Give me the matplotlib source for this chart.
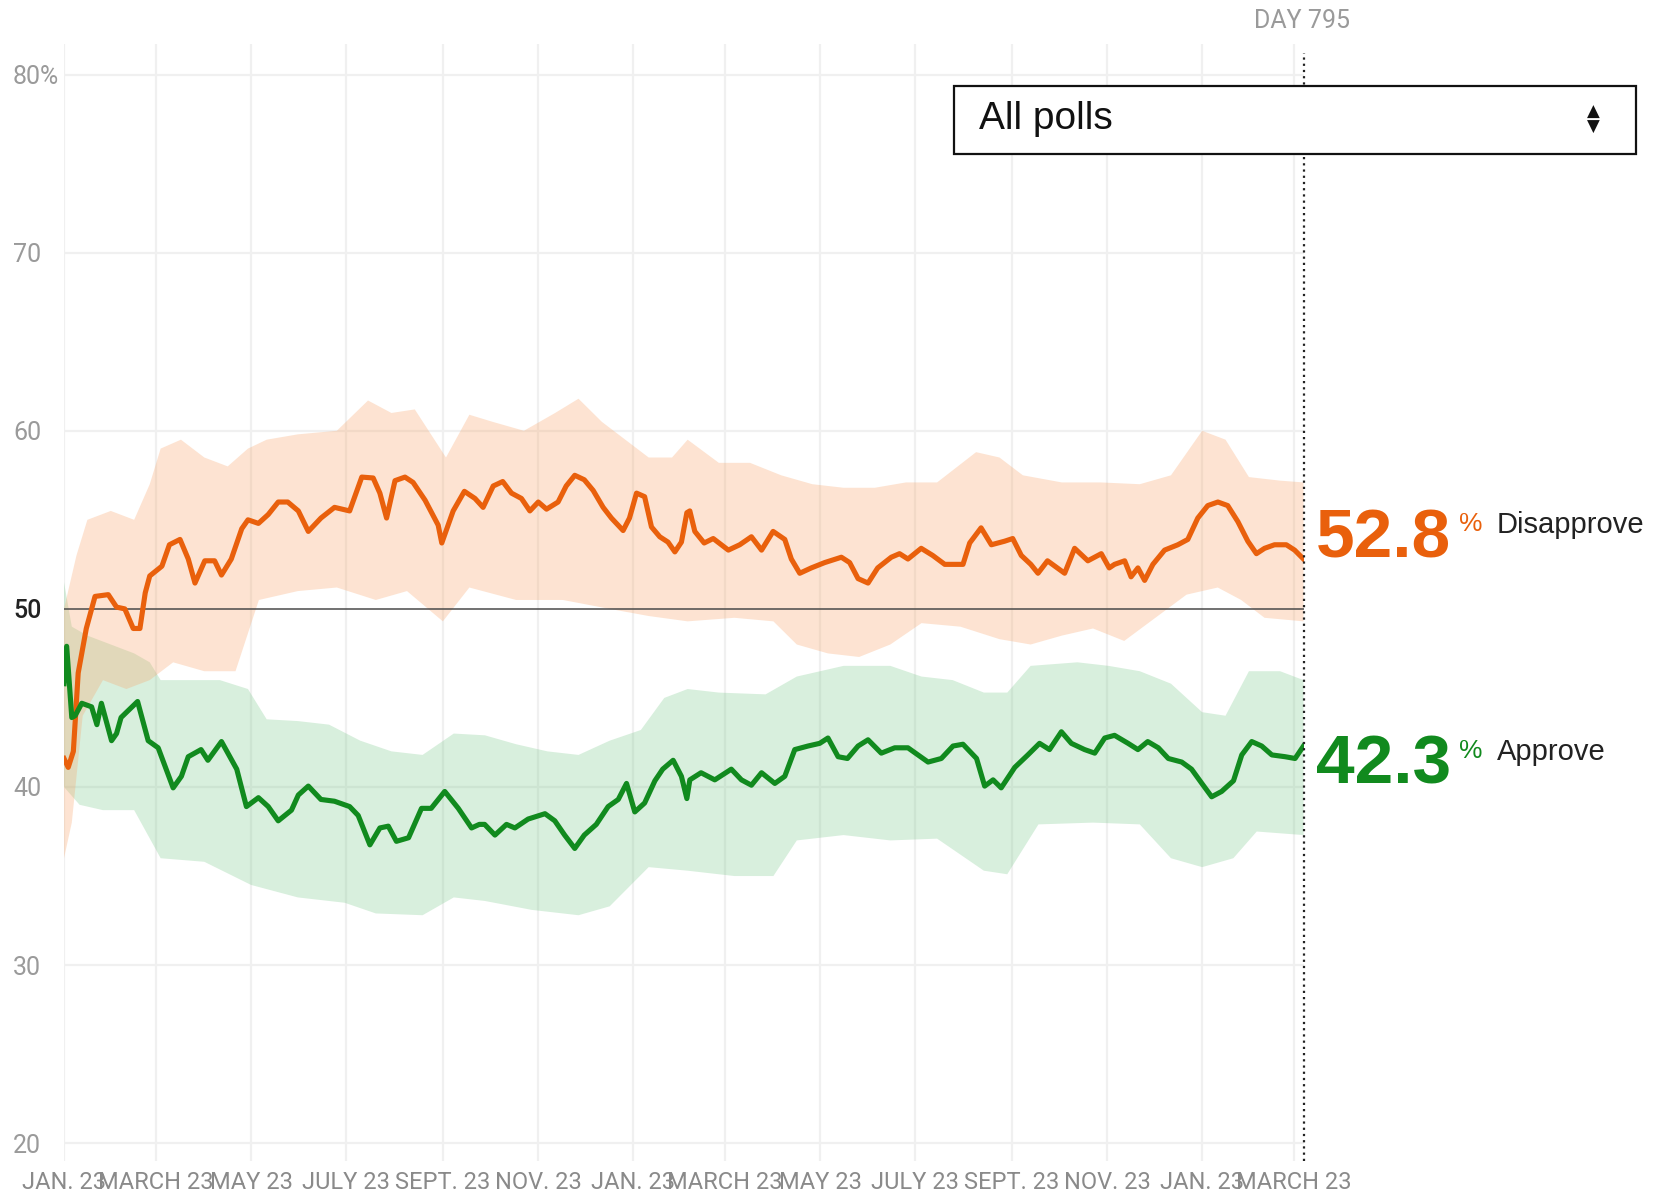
import matplotlib.pyplot as plt
from matplotlib.patches import Rectangle
import numpy as np

# Trump approval tracker, day 0 = Jan. 23, 2017
tick_days = [0, 59, 120, 181, 243, 304, 365, 424, 485, 546, 608, 669, 730, 789]
tick_labels = ["JAN. 23", "MARCH 23", "MAY 23", "JULY 23", "SEPT. 23", "NOV. 23",
               "JAN. 23", "MARCH 23", "MAY 23", "JULY 23", "SEPT. 23", "NOV. 23",
               "JAN. 23", "MARCH 23"]
y_ticks = [20, 30, 40, 50, 60, 70, 80]
y_labels = ["20", "30", "40", "50", "60", "70", "80%"]

dis_days = [0, 2.7, 6, 9.1, 14.3, 19.9, 28.4, 33.7, 39, 44.4, 48.7, 52.1, 55, 62.8, 67.6,
            74.4, 79.7, 84, 90.3, 96.6, 101, 107.3, 114, 118, 124.7, 131, 137.4, 143.5,
            150.3, 156.7, 164.8, 173.5, 183.2, 191, 198.3, 202.6, 206.9, 212.3, 218.7,
            223.9, 231.6, 240, 242.3, 249.6, 256.8, 263.6, 268.8, 275.3, 281.4, 287,
            293.4, 298.8, 304.2, 309.5, 316.9, 322.1, 327.6, 333.7, 339.4, 345.8, 351.1,
            358.6, 362.7, 367.2, 372.4, 376.8, 382.1, 387.4, 391.8, 396, 399.5, 401.4,
            404.6, 410.6, 416.4, 426.1, 433.4, 440.9, 447.4, 454.8, 462.3, 466.5, 471.9,
            479.3, 487.9, 498.6, 503.9, 509.3, 515.7, 521.9, 530.6, 535.9, 541.3, 549.8,
            557.2, 564.9, 576.6, 580.9, 588.2, 594.8, 603.3, 608.5, 614, 620.1, 624.7,
            630.8, 641.8, 648.2, 656.7, 665.3, 670.4, 673.8, 680.3, 684.4, 688.8, 693.1,
            698.4, 705.9, 714.4, 720.8, 727.2, 733.6, 740.1, 746.4, 752.9, 759.3, 764.8,
            770, 776.4, 784, 789.3, 795]
dis_vals = [41.6, 41.1, 42.0, 46.4, 48.9, 50.7, 50.8, 50.1, 50.0, 48.9, 48.9, 50.9, 51.85,
            52.4, 53.6, 53.9, 52.8, 51.45, 52.7, 52.7, 51.9, 52.8, 54.5, 55.0, 54.8, 55.3,
            56.0, 56.0, 55.5, 54.35, 55.1, 55.7, 55.5, 57.4, 57.35, 56.5, 55.1, 57.2, 57.4,
            57.1, 56.1, 54.7, 53.7, 55.5, 56.6, 56.2, 55.7, 56.9, 57.15, 56.5, 56.2, 55.5,
            56.0, 55.6, 56.0, 56.9, 57.5, 57.25, 56.65, 55.7, 55.1, 54.4, 55.1, 56.5, 56.3,
            54.6, 54.05, 53.75, 53.2, 53.75, 55.4, 55.5, 54.35, 53.7, 53.95, 53.3, 53.6,
            54.05, 53.3, 54.35, 53.9, 52.8, 52.0, 52.3, 52.6, 52.9, 52.6, 51.7, 51.45, 52.3,
            52.9, 53.1, 52.8, 53.4, 53.0, 52.5, 52.5, 53.7, 54.55, 53.6, 53.8, 53.95, 53.0,
            52.5, 52.0, 52.7, 52.0, 53.4, 52.7, 53.1, 52.3, 52.5, 52.7, 51.8, 52.3, 51.6,
            52.5, 53.3, 53.6, 53.9, 55.1, 55.8, 56.0, 55.8, 54.9, 53.8, 53.1, 53.4, 53.6,
            53.6, 53.3, 52.8]

app_days = [0, 1.7, 5, 7.1, 11.4, 17.7, 21.1, 24, 30.5, 33.7, 36.6, 47.2, 54, 60.4, 70,
            75.3, 79.7, 87.9, 92.3, 101, 110.8, 117, 124.7, 131, 137.4, 145.9, 150.3,
            156.7, 164.8, 173.5, 183.2, 188.7, 196.2, 202.6, 208, 213.2, 221, 229.3,
            235.5, 244.2, 252.9, 261.4, 266.4, 269.8, 276.4, 283.8, 289.2, 297.7, 308.5,
            314.8, 321.1, 327.6, 333.7, 341.4, 349, 355.5, 360.8, 366.1, 372.4, 379, 384,
            390.7, 396, 399.5, 401.4, 408.6, 417.4, 428, 434.5, 440.9, 447.4, 455.9, 462.3,
            468.7, 477.2, 484.7, 490, 496.5, 502.5, 509.3, 515.7, 524.2, 532.8, 541.3,
            554.2, 562.7, 570.2, 576.6, 585.3, 590.5, 595.9, 601.1, 609.8, 618.2, 625.7,
            632.1, 639.7, 646.1, 654.6, 661.1, 667.5, 673.8, 682.5, 688.8, 695.1, 701.9,
            708.3, 716.9, 723.2, 729.8, 736.1, 742.5, 750.1, 755.4, 761.8, 768.2, 774.7,
            783.2, 789.6, 795]
app_vals = [45.8, 47.9, 43.9, 44.0, 44.7, 44.5, 43.5, 44.7, 42.6, 43.0, 43.9, 44.8, 42.6,
            42.2, 39.95, 40.6, 41.7, 42.1, 41.5, 42.55, 41.0, 38.9, 39.4, 38.9, 38.1, 38.7,
            39.55, 40.05, 39.3, 39.2, 38.9, 38.4, 36.75, 37.7, 37.8, 36.95, 37.15, 38.8,
            38.8, 39.75, 38.8, 37.7, 37.9, 37.9, 37.3, 37.9, 37.7, 38.2, 38.5, 38.1, 37.3,
            36.55, 37.3, 37.9, 38.9, 39.3, 40.2, 38.6, 39.1, 40.35, 41.0, 41.5, 40.6, 39.35,
            40.4, 40.8, 40.4, 41.0, 40.4, 40.1, 40.8, 40.2, 40.6, 42.1, 42.3, 42.45, 42.75,
            41.7, 41.6, 42.3, 42.65, 41.9, 42.2, 42.2, 41.4, 41.6, 42.3, 42.4, 41.6, 40.05,
            40.4, 39.95, 41.1, 41.8, 42.45, 42.1, 43.1, 42.45, 42.1, 41.9, 42.75, 42.9,
            42.45, 42.1, 42.55, 42.2, 41.6, 41.4, 41.0, 40.2, 39.45, 39.75, 40.35, 41.8,
            42.55, 42.3, 41.8, 41.7, 41.6, 42.3]

# uncertainty bands
dis_hi_days = [0, 8, 15, 30, 45, 55, 62, 75, 90, 105, 118, 130, 150, 175, 195, 210, 225, 245,
               260, 275, 295, 315, 330, 345, 360, 375, 390, 400, 420, 440, 460, 480, 500, 520,
               540, 560, 585, 600, 615, 640, 665, 690, 710, 730, 745, 760, 780, 795]
dis_hi = [50, 53, 55, 55.5, 55, 57, 59, 59.5, 58.5, 58, 59, 59.5, 59.8, 60, 61.7, 61, 61.2,
          58.5, 60.9, 60.5, 60, 61, 61.8, 60.5, 59.5, 58.5, 58.5, 59.5, 58.2, 58.2, 57.5, 57,
          56.8, 56.8, 57.1, 57.1, 58.8, 58.5, 57.5, 57.1, 57.1, 57, 57.5, 60, 59.5, 57.4,
          57.2, 57.1]
dis_lo_days = [0, 5, 12, 25, 40, 55, 70, 90, 110, 125, 150, 175, 200, 220, 243, 260, 290,
               320, 350, 375, 400, 430, 455, 470, 490, 510, 530, 550, 575, 600, 620, 640,
               660, 680, 700, 720, 740, 755, 770, 795]
dis_lo = [36, 38, 44, 46, 45.5, 46, 47, 46.5, 46.5, 50.5, 51, 51.2, 50.5, 51, 49.3, 51.2,
          50.5, 50.5, 50, 49.6, 49.3, 49.5, 49.3, 48, 47.5, 47.3, 48, 49.2, 49, 48.3, 48,
          48.5, 48.9, 48.2, 49.5, 50.8, 51.2, 50.5, 49.5, 49.3]
app_hi_days = [0, 5, 15, 30, 45, 55, 62, 100, 118, 130, 150, 170, 190, 210, 230, 250, 270,
               290, 310, 330, 350, 370, 385, 400, 420, 450, 470, 500, 530, 550, 570, 590,
               605, 620, 650, 670, 690, 710, 730, 745, 760, 780, 795]
app_hi = [51.5, 49, 48.5, 48, 47.5, 47, 46, 46, 45.5, 43.8, 43.7, 43.5, 42.6, 42, 41.8, 43,
          42.9, 42.4, 42, 41.8, 42.6, 43.2, 45, 45.5, 45.3, 45.2, 46.2, 46.8, 46.8, 46.2, 46,
          45.3, 45.3, 46.8, 47, 46.8, 46.5, 45.8, 44.2, 44, 46.5, 46.5, 46]
app_lo_days = [0, 10, 25, 45, 62, 90, 120, 150, 180, 200, 230, 250, 270, 300, 330, 350, 375,
               400, 430, 455, 470, 500, 530, 560, 590, 605, 625, 660, 690, 710, 730, 750,
               765, 795]
app_lo = [40, 39, 38.7, 38.7, 36, 35.8, 34.5, 33.8, 33.5, 32.9, 32.8, 33.8, 33.6, 33.1, 32.8,
          33.3, 35.5, 35.3, 35, 35, 37, 37.3, 37, 37.1, 35.3, 35.1, 37.9, 38, 37.9, 36, 35.5,
          36, 37.5, 37.3]

ORANGE = '#E9600C'
GREEN = '#118A1E'

W, H = 1670, 1191
fig = plt.figure(figsize=(W / 100, H / 100), dpi=100)
top_px, bot_px = 44.3, 1161
ax = fig.add_axes([64 / W, (H - bot_px) / H, (1303.5 - 64) / W, (bot_px - top_px) / H])
ax.set_xlim(0, 795)
ax.set_ylim(19, 81.7)
for s in ax.spines.values():
    s.set_visible(False)

# grid
for v in y_ticks:
    if v != 50:
        ax.axhline(v, color='#f0f0f0', lw=1.6, zorder=0)
for d in tick_days:
    ax.axvline(d, color='#f0f0f0', lw=1.6, zorder=0)

# bands
ax.fill(np.concatenate([app_hi_days, app_lo_days[::-1]]),
        np.concatenate([app_hi, app_lo[::-1]]),
        color='#7FCB8F', alpha=0.3, lw=0, zorder=1)
ax.fill(np.concatenate([dis_hi_days, dis_lo_days[::-1]]),
        np.concatenate([dis_hi, dis_lo[::-1]]),
        color='#F9A46A', alpha=0.3, lw=0, zorder=1)

ax.axhline(50, color='#4a4a4a', lw=1.1, zorder=3)

ax.plot(dis_days, dis_vals, color=ORANGE, lw=3.7, zorder=4, solid_joinstyle='round')
ax.plot(app_days, app_vals, color=GREEN, lw=3.7, zorder=4, solid_joinstyle='round')

ax.axvline(795, ymin=0, ymax=0.992, color='#222222', ls=(0, (1, 1.8)), lw=1.6,
           clip_on=False, zorder=5)

ax.set_xticks(tick_days)
ax.set_xticklabels(tick_labels, fontsize=17, color='#8a8a8a', family='Roboto')
ax.set_yticks(y_ticks)
ax.set_yticklabels(y_labels, fontsize=18, color='#9a9a9a', family='Roboto')
ax.tick_params(axis='x', length=0, pad=7)
ax.tick_params(axis='y', length=0, pad=36.7)
for lbl in ax.get_yticklabels():
    lbl.set_horizontalalignment('left')
    if lbl.get_text() == '50':
        lbl.set_color('#222222')
        lbl.set_fontweight('medium')

# header and dropdown
fig.text(1301.5 / W, 1 - 21.3 / H, 'DAY 795', fontsize=18, color='#9a9a9a',
         family='Roboto', ha='center', va='center')
fig.add_artist(Rectangle((954 / W, 1 - 154 / H), 682 / W, 68 / H, transform=fig.transFigure,
                         facecolor='white', edgecolor='#111111', lw=1.6, zorder=5))
fig.text(979 / W, 1 - 119 / H, 'All polls', fontsize=28, color='#111111',
         family='Liberation Sans', ha='left', va='center', zorder=6)
fig.text(1593 / W, 1 - 112 / H, '▲', fontsize=12, color='#111111', family='DejaVu Sans',
         ha='center', va='center', zorder=6)
fig.text(1593 / W, 1 - 127 / H, '▼', fontsize=12, color='#111111', family='DejaVu Sans',
         ha='center', va='center', zorder=6)

# end labels
fig.text(1316 / W, 1 - 557 / H, f'{dis_vals[-1]:.1f}', fontsize=50, fontweight='bold',
         color=ORANGE, family='Liberation Sans', ha='left', va='baseline')
fig.text(1459 / W, 1 - 512 / H, '%', fontsize=19, color=ORANGE, family='Liberation Sans',
         ha='left', va='top')
fig.text(1497 / W, 1 - 533 / H, 'Disapprove', fontsize=21, color='#222222',
         family='Liberation Sans', ha='left', va='baseline')

fig.text(1316 / W, 1 - 784 / H, f'{app_vals[-1]:.1f}', fontsize=50, fontweight='bold',
         color=GREEN, family='Liberation Sans', ha='left', va='baseline')
fig.text(1459 / W, 1 - 739 / H, '%', fontsize=19, color=GREEN, family='Liberation Sans',
         ha='left', va='top')
fig.text(1497 / W, 1 - 760 / H, 'Approve', fontsize=21, color='#222222',
         family='Liberation Sans', ha='left', va='baseline')

fig.savefig('out.png', dpi=100, facecolor='white')
